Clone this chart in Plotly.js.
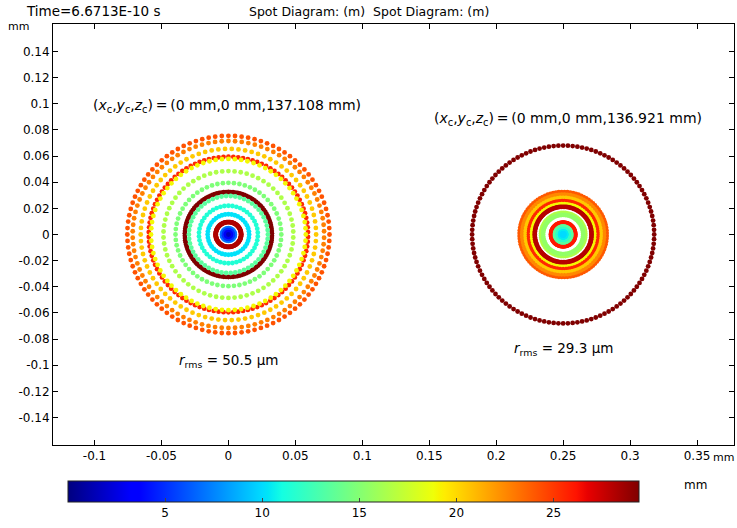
<!DOCTYPE html>
<html>
<head>
<meta charset="utf-8">
<script src="https://cdn.plot.ly/plotly-3.0.1.min.js"></script>
<style>html,body{margin:0;padding:0;background:#fff;}#chart{width:737px;height:528px;}</style>
</head>
<body>
<div id="chart"></div>
<script>
// ---- Data ----
// Spot centres (mm)
var leftCenter = [0, 0];
var rightCenter = [0.25, 0];
// Left spot (z = 137.108 mm): ring radius in image (mm), pupil value (mm, colour), rays per ring
var leftRadius = [0.0755, 0.0715, 0.0655, 0.0595, 0.0578, 0.0485, 0.0395, 0.0325, 0.0295, 0.0220, 0.0155, 0.0095, 0.0048, 0.0033, 0.0018, 0.0];
var leftValue  = [24.2,   22.8,   20.5,   25.5,   19.0,   16.5,   14.8,   29.4,   13.5,   11.5,   10.2,   28.2,   7.0,    5.0,    3.0,    1.5];
var leftCount  = [96,     90,     82,     102,    76,     66,     60,     118,    54,     46,     40,     112,    28,     20,     12,     1];
// Right spot (z = 136.921 mm)
var rightRadius = [0.0680, 0.0325, 0.0305, 0.0280, 0.0255, 0.0232, 0.0212, 0.0165, 0.0150, 0.0090, 0.0060, 0.0040, 0.0022, 0.0008];
var rightValue  = [29.4,   24.0,   22.5,   20.5,   25.5,   19.0,   28.0,   16.5,   15.5,   26.0,   13.5,   12.0,   10.5,   10.0];
var rightCount  = [120,    96,     90,     82,     102,    76,     112,    66,     60,     106,    54,     46,     40,     12];
// Texts
var xTickVals = [-0.1, -0.05, 0, 0.05, 0.1, 0.15, 0.2, 0.25, 0.3, 0.35];
var xTickText = ['-0.1', '-0.05', '0', '0.05', '0.1', '0.15', '0.2', '0.25', '0.3', '0.35'];
var yTickVals = [0.14, 0.12, 0.1, 0.08, 0.06, 0.04, 0.02, 0, -0.02, -0.04, -0.06, -0.08, -0.1, -0.12, -0.14];
var yTickText = ['0.14', '0.12', '0.1', '0.08', '0.06', '0.04', '0.02', '0', '-0.02', '-0.04', '-0.06', '-0.08', '-0.1', '-0.12', '-0.14'];
var cbTickVals = [5, 10, 15, 20, 25];
var leftZ = '137.108', rightZ = '136.921';
var leftRms = '50.5', rightRms = '29.3';

// ---- Build ray points from rings ----
function buildSpot(center, radius, value, count) {
  var xs = [], ys = [], cs = [];
  for (var i = 0; i < radius.length; i++) {
    var n = count[i];
    for (var k = 0; k < n; k++) {
      var t = 2 * Math.PI * k / n + (i % 2 ? Math.PI / n : 0);
      xs.push(center[0] + radius[i] * Math.cos(t));
      ys.push(center[1] + radius[i] * Math.sin(t));
      cs.push(value[i]);
    }
  }
  return {x: xs, y: ys, c: cs};
}
var L = buildSpot(leftCenter, leftRadius, leftValue, leftCount);
var R = buildSpot(rightCenter, rightRadius, rightValue, rightCount);

var jet = [
  [0, 'rgb(0,0,128)'], [0.11, 'rgb(0,0,255)'], [0.125, 'rgb(0,0,255)'],
  [0.34, 'rgb(0,219,255)'], [0.35, 'rgb(0,229,247)'], [0.375, 'rgb(20,255,226)'],
  [0.64, 'rgb(239,255,8)'], [0.65, 'rgb(247,245,0)'], [0.66, 'rgb(255,236,0)'],
  [0.89, 'rgb(255,19,0)'], [0.91, 'rgb(232,0,0)'], [1, 'rgb(128,0,0)']
];

function mk(S) {
  return {
    type: 'scatter', mode: 'markers', x: S.x, y: S.y,
    marker: {size: 4.8, color: S.c, coloraxis: 'coloraxis', line: {width: 0}},
    hoverinfo: 'skip', showlegend: false
  };
}

// pixel helpers for paper placement (plot area: l=53, r=734, t=24, b=453)
var PL = 53, PR = 734, PT = 24, PB = 453;
function px(x) { return (x - PL) / (PR - PL); }
function py(y) { return (PB - y) / (PB - PT); }

var font = 'DejaVu Sans, sans-serif';
var axisCommon = {
  showline: true, linecolor: '#000', linewidth: 1, mirror: 'ticks',
  ticks: 'inside', ticklen: 5, tickcolor: '#000', tickwidth: 1,
  showgrid: false, zeroline: false, tickmode: 'array',
  tickfont: {family: font, size: 12, color: '#000'}
};

var layout = {
  width: 737, height: 528,
  margin: {l: PL, r: 737 - PR, t: PT, b: 528 - PB, pad: 0},
  paper_bgcolor: '#fff', plot_bgcolor: '#fff',
  showlegend: false,
  xaxis: Object.assign({}, axisCommon, {range: [-0.131, 0.3776], tickvals: xTickVals, ticktext: xTickText}),
  yaxis: Object.assign({}, axisCommon, {range: [-0.161, 0.161], tickvals: yTickVals, ticktext: yTickText}),
  coloraxis: {
    cmin: 0, cmax: 29.4, colorscale: jet,
    colorbar: {
      orientation: 'h', lenmode: 'pixels', len: 571, thickness: 21,
      x: px(353.5), xanchor: 'center', y: py(489.5), yanchor: 'top',
      xpad: 0, ypad: 0, outlinewidth: 1, outlinecolor: '#222',
      tickmode: 'array', tickvals: cbTickVals, ticks: 'inside', ticklen: 4,
      tickcolor: '#444', tickfont: {family: font, size: 12, color: '#000'}
    }
  },
  annotations: [
    {xref: 'paper', yref: 'paper', x: px(24), y: py(11), xanchor: 'left', yanchor: 'middle', showarrow: false,
     text: 'Time=6.6713E-10 s', font: {family: font, size: 13.5, color: '#000'}},
    {xref: 'paper', yref: 'paper', x: px(369), y: py(11), xanchor: 'center', yanchor: 'middle', showarrow: false,
     text: 'Spot Diagram: (m)  Spot Diagram: (m)', font: {family: font, size: 12.5, color: '#000'}},
    {xref: 'paper', yref: 'paper', x: px(18), y: py(27), xanchor: 'center', yanchor: 'middle', showarrow: false,
     text: 'mm', font: {family: font, size: 11, color: '#000'}},
    {xref: 'paper', yref: 'paper', x: px(723), y: py(466), xanchor: 'center', yanchor: 'middle', showarrow: false,
     text: 'mm', font: {family: font, size: 11, color: '#000'}},
    {xref: 'paper', yref: 'paper', x: px(695), y: py(494), xanchor: 'center', yanchor: 'middle', showarrow: false,
     text: 'mm', font: {family: font, size: 12, color: '#000'}},
    {xref: 'x', yref: 'y', x: -0.0008, y: 0.0985, xanchor: 'center', yanchor: 'middle', showarrow: false,
     text: '(<i>x</i><sub>c</sub>,<i>y</i><sub>c</sub>,<i>z</i><sub>c</sub>)\u2009=\u2009(0 mm,0 mm,' + leftZ + ' mm)',
     font: {family: font, size: 14, color: '#000'}},
    {xref: 'x', yref: 'y', x: 0.2535, y: 0.0885, xanchor: 'center', yanchor: 'middle', showarrow: false,
     text: '(<i>x</i><sub>c</sub>,<i>y</i><sub>c</sub>,<i>z</i><sub>c</sub>)\u2009=\u2009(0 mm,0 mm,' + rightZ + ' mm)',
     font: {family: font, size: 14, color: '#000'}},
    {xref: 'x', yref: 'y', x: 0, y: -0.0968, xanchor: 'center', yanchor: 'middle', showarrow: false,
     text: '<i>r</i><sub>rms</sub> = ' + leftRms + ' μm', font: {family: font, size: 13.5, color: '#000'}},
    {xref: 'x', yref: 'y', x: 0.25, y: -0.0872, xanchor: 'center', yanchor: 'middle', showarrow: false,
     text: '<i>r</i><sub>rms</sub> = ' + rightRms + ' μm', font: {family: font, size: 13.5, color: '#000'}}
  ]
};

Plotly.newPlot('chart', [mk(L), mk(R)], layout, {displayModeBar: false, staticPlot: true});
</script>
</body>
</html>
